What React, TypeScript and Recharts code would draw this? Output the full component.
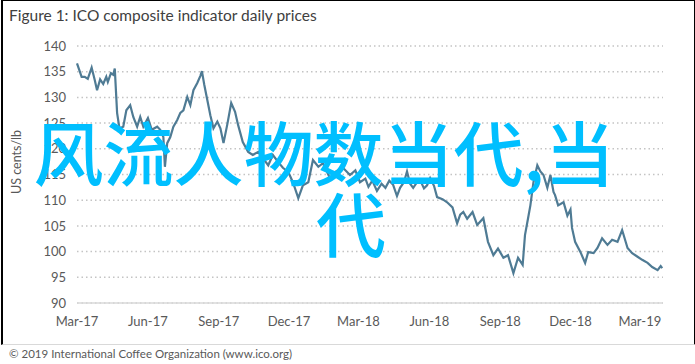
import { LineChart, Line, XAxis, YAxis, CartesianGrid } from 'recharts'

// days counted from 1 Mar 2017
const dayOffsets = [
  0, 3, 6, 10, 14, 19, 23, 26, 30, 34, 38, 40, 44, 47, 49, 52, 55, 60, 64, 69,
  73, 78, 82, 86, 92, 97, 104, 108, 112, 114, 117, 121, 125, 130, 134, 138, 143, 147, 151, 156,
  160, 162, 165, 169, 173, 177, 182, 186, 190, 195, 200, 205, 209, 215, 222, 228, 235, 241, 248, 254,
  261, 267, 274, 280, 287, 293, 300, 306, 313, 319, 328, 336, 345, 354, 361, 367, 374, 378, 383, 389,
  395, 400, 405, 410, 415, 419, 424, 428, 432, 436, 441, 445, 450, 454, 458, 463, 467, 474, 480, 487,
  493, 497, 501, 506, 513, 519, 527, 533, 540, 546, 553, 559, 566, 572, 578, 581, 585, 588, 592, 597,
  601, 605, 610, 614, 618, 620, 624, 631, 636, 640, 642, 646, 653, 659, 663, 670, 675, 681, 688, 694,
  701, 707, 714, 720, 727, 733, 740, 746, 753, 757, 759
]

// ICO composite indicator, US cents/lb
const prices = [
  136.6, 135.3, 134.0, 134.0, 133.6, 135.8, 133.4, 131.4, 133.5, 132.6, 134.0, 133.0, 134.7, 134.4, 135.6, 127.0, 124.0, 124.3, 127.5, 128.5,
  126.2, 124.3, 126.2, 124.3, 126.0, 123.7, 124.3, 123.7, 122.3, 116.5, 121.1, 122.3, 124.3, 125.6, 127.0, 127.5, 130.1, 128.5, 131.4, 132.8,
  134.2, 135.1, 132.5, 129.5, 126.5, 124.0, 125.3, 124.0, 121.1, 124.8, 128.9, 127.2, 124.6, 121.3, 119.4, 118.8, 119.4, 118.2, 116.8, 118.8,
  117.4, 116.3, 115.5, 113.5, 110.4, 112.9, 113.5, 117.8, 116.5, 117.2, 114.3, 115.6, 116.3, 114.9, 115.8, 113.5, 114.2, 112.6, 113.8, 111.8,
  113.2, 112.4, 113.8, 113.0, 110.8, 112.4, 113.5, 115.6, 113.2, 112.4, 113.5, 113.9, 112.3, 112.9, 114.3, 112.8, 110.6, 110.2, 109.6, 108.6,
  105.5, 107.2, 107.7, 106.4, 107.7, 105.2, 106.5, 101.9, 99.3, 100.6, 98.8, 99.3, 95.8, 98.8, 97.4, 103.2, 106.5, 109.0, 113.5, 116.8,
  115.6, 114.9, 112.4, 114.9, 111.6, 111.0, 109.0, 109.6, 107.0, 108.2, 104.6, 101.9, 99.9, 97.8, 99.9, 99.7, 100.7, 102.6, 101.3, 102.3,
  101.9, 104.2, 100.7, 99.7, 99.0, 98.4, 97.8, 97.0, 96.4, 97.2, 96.8
]

const tickDays = [0, 92, 184, 275, 365, 457, 549, 640, 730]
const tickLabels = ['Mar-17', 'Jun-17', 'Sep-17', 'Dec-17', 'Mar-18', 'Jun-18', 'Sep-18', 'Dec-18', 'Mar-19']
const yTicks = [90, 95, 100, 105, 110, 115, 120, 125, 130, 135, 140]

const data = dayOffsets.map((d, i) => ({ day: d, price: prices[i] }))

const axisFont = { fill: '#595959', fontSize: 13, fontFamily: 'Lato, "Open Sans", sans-serif' }

export default function App() {
  return (
    <div style={{ position: 'absolute', left: 0, top: 0, width: 695, height: 364, background: '#fff', fontFamily: 'Lato, sans-serif' }}>
      <div style={{ position: 'absolute', left: 1, top: 0, width: 691, height: 343, borderLeft: '2px solid #000', borderTop: '1px solid #000', borderRight: '2px solid #000', borderBottom: '1px solid #d9d9d9' }} />
      <div style={{ position: 'absolute', left: 9, top: 6, fontSize: 15.5, color: '#404040' }}>
        Figure 1: ICO composite indicator daily prices
      </div>
      <div style={{ position: 'absolute', left: 0, top: 0 }}>
        <LineChart width={695} height={343} data={data} margin={{ top: 46, right: 32, left: 17, bottom: 10 }}>
          <CartesianGrid vertical={false} stroke="#c4c4c4" strokeWidth={1.5} strokeDasharray="1.5 3" />
          <XAxis
            type="number"
            dataKey="day"
            domain={[0, 760]}
            ticks={tickDays}
            tickFormatter={(v: number) => tickLabels[tickDays.indexOf(v)]}
            tick={axisFont}
            tickLine={false}
            tickSize={0}
            tickMargin={14}
            axisLine={{ stroke: '#d9d9d9', strokeWidth: 1.5 }}
            height={30}
            interval={0}
          />
          <YAxis
            domain={[90, 140]}
            ticks={yTicks}
            tick={axisFont}
            tickLine={false}
            tickSize={0}
            tickMargin={11}
            axisLine={false}
            width={60}
            interval={0}
          />
          <Line
            type="linear"
            dataKey="price"
            stroke="#4f7b94"
            strokeWidth={2.2}
            dot={false}
            isAnimationActive={false}
          />
        </LineChart>
      </div>
      <svg width={695} height={343} style={{ position: 'absolute', left: 0, top: 0, pointerEvents: 'none' }}>
        <text x={21} y={162} transform="rotate(-90 21 162)" textAnchor="middle" fill="#595959" fontSize={12.5} fontFamily='Lato, "Open Sans", sans-serif'>
          US cents/lb
        </text>
        <g fill="#00bfff" fontFamily='"Noto Sans CJK SC", sans-serif' fontSize={70} fontWeight={500}>
          <text x={324} y={181} textAnchor="middle">风流人物数当代,当</text>
          <text x={351} y={252} textAnchor="middle">代</text>
        </g>
      </svg>
      <div style={{ position: 'absolute', left: 9, top: 347, fontSize: 11.5, color: '#595959' }}>
        © 2019 International Coffee Organization (www.ico.org)
      </div>
    </div>
  )
}
